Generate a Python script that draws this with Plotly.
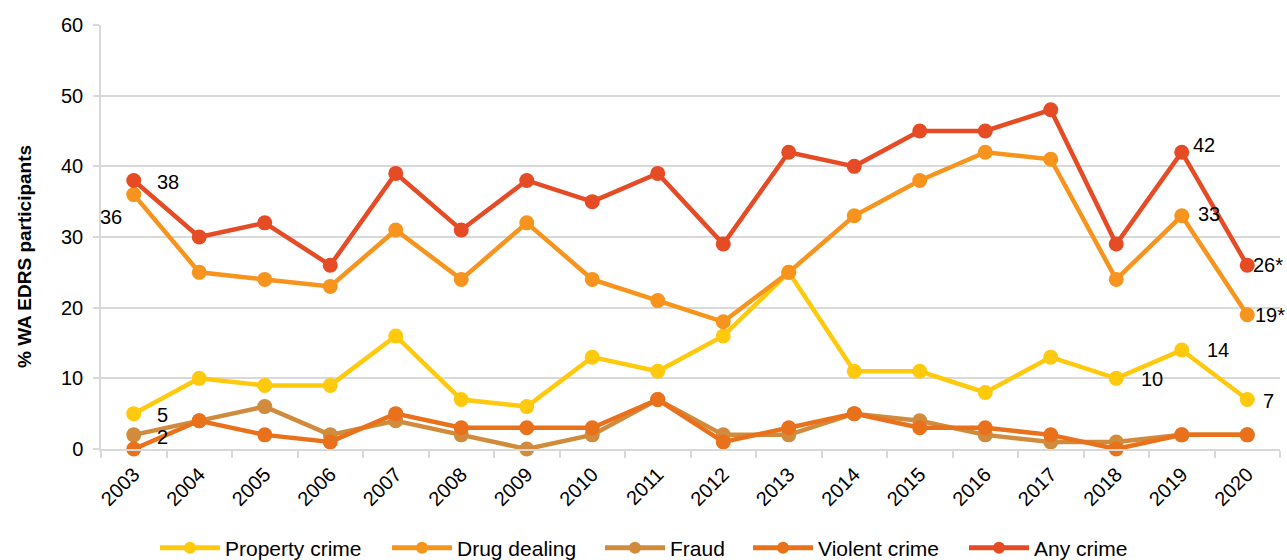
import plotly.graph_objects as go

years = [str(y) for y in range(2003, 2021)]

property_crime = [5, 10, 9, 9, 16, 7, 6, 13, 11, 16, 25, 11, 11, 8, 13, 10, 14, 7]
drug_dealing = [36, 25, 24, 23, 31, 24, 32, 24, 21, 18, 25, 33, 38, 42, 41, 24, 33, 19]
fraud = [2, 4, 6, 2, 4, 2, 0, 2, 7, 2, 2, 5, 4, 2, 1, 1, 2, 2]
violent_crime = [0, 4, 2, 1, 5, 3, 3, 3, 7, 1, 3, 5, 3, 3, 2, 0, 2, 2]
any_crime = [38, 30, 32, 26, 39, 31, 38, 35, 39, 29, 42, 40, 45, 45, 48, 29, 42, 26]

series_names = ["Property crime", "Drug dealing", "Fraud", "Violent crime", "Any crime"]
series_colors = ["#FFC90E", "#F7941D", "#D08B3C", "#EA711B", "#E54B24"]
series_values = [property_crime, drug_dealing, fraud, violent_crime, any_crime]

# value labels: (series index, year index, suffix, xanchor, xshift, yshift)
value_labels = [
    (4, 0, "", "left", 21, -2),
    (1, 0, "", "right", -10, -22),
    (0, 0, "", "left", 21, -1),
    (2, 0, "", "left", 21, -2),
    (4, 16, "", "left", 9, 7),
    (1, 16, "", "left", 14, 2),
    (0, 16, "", "left", 23, 0),
    (0, 15, "", "left", 23, -1),
    (4, 17, "*", "left", 4, 0),
    (1, 17, "*", "left", 6, 0),
    (0, 17, "", "left", 14, -1),
]

# one legend box per series so each entry sits at its own horizontal spot
legend_x = [155, 387, 600, 748, 964]

FONT = "Arial, Liberation Sans, sans-serif"
GRID = "#D9D9D9"
W, H = 1287, 560
PL, PR, PT, PB = 101, 1280, 25, 449  # plot area edges in pixels

fig = go.Figure()
for i, (name, color, vals) in enumerate(zip(series_names, series_colors, series_values)):
    fig.add_trace(go.Scatter(
        x=years, y=vals, name=name, mode="lines+markers",
        line=dict(color=color, width=4.5),
        marker=dict(color=color, size=15),
        cliponaxis=False,
        legend="legend" if i == 0 else f"legend{i + 1}",
    ))

for si, yi, suffix, anchor, dx, dy in value_labels:
    fig.add_annotation(
        x=yi, y=series_values[si][yi], xref="x", yref="y",
        text=f"{series_values[si][yi]}{suffix}", showarrow=False,
        xanchor=anchor, yanchor="middle", xshift=dx, yshift=dy,
        font=dict(family=FONT, size=20, color="#000000"),
    )

# y-axis title
fig.add_annotation(
    x=(24 - PL) / (PR - PL), y=(PB - 257) / (PB - PT), xref="paper", yref="paper",
    text="<b>% WA EDRS participants</b>", showarrow=False, textangle=-90,
    xanchor="center", yanchor="middle",
    font=dict(family=FONT, size=19, color="#000000"),
)

legend_style = dict(
    orientation="h", xref="container", yref="container",
    y=1 - 548 / H, yanchor="middle", xanchor="left",
    font=dict(family=FONT, size=21, color="#000000"),
    itemwidth=60, itemsizing="constant",
    bgcolor="rgba(0,0,0,0)", borderwidth=0,
)
layout_legends = {}
for i, lx in enumerate(legend_x):
    key = "legend" if i == 0 else f"legend{i + 1}"
    layout_legends[key] = dict(legend_style, x=lx / W)

fig.update_layout(
    width=W, height=H,
    margin=dict(l=PL, r=W - PR, t=PT, b=H - PB),
    paper_bgcolor="white", plot_bgcolor="white",
    font=dict(family=FONT, size=20, color="#000000"),
    showlegend=True,
    **layout_legends,
)

fig.update_xaxes(
    type="category", range=[-0.5, len(years) - 0.5],
    showgrid=False, showline=True, linecolor=GRID, linewidth=1.5,
    ticks="outside", tickson="boundaries", ticklen=7, tickcolor=GRID, tickwidth=1.5,
    tickangle=-45, tickfont=dict(size=20), ticklabelstandoff=4, zeroline=False,
)
fig.update_yaxes(
    range=[0, 60], dtick=10, showgrid=True, gridcolor=GRID, gridwidth=1.5,
    showline=True, linecolor=GRID, linewidth=1.5,
    ticks="outside", ticklen=6, tickcolor=GRID, tickwidth=1.5,
    tickfont=dict(size=20), ticklabelstandoff=6, zeroline=False,
)

fig.write_html("out.html")
